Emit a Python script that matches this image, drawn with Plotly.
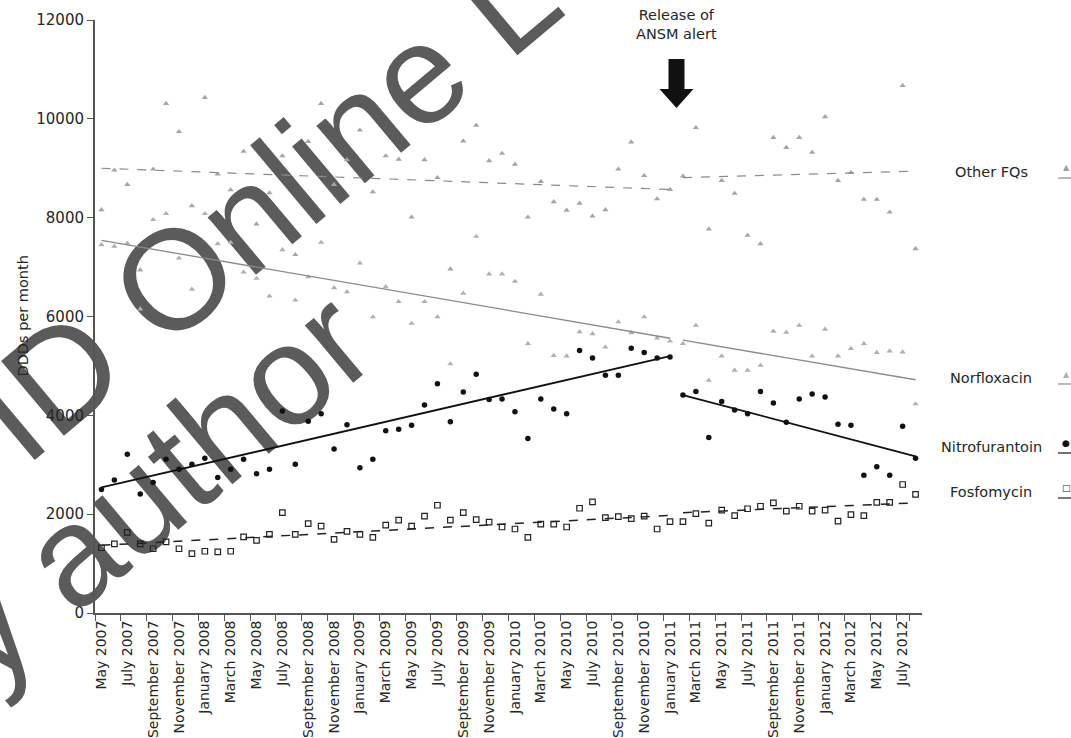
import plotly.graph_objects as go

# ---------------- data ----------------
month_names = ["January", "February", "March", "April", "May", "June", "July",
               "August", "September", "October", "November", "December"]
months = [f"{month_names[(4 + i) % 12]} {2007 + (4 + i) // 12}" for i in range(64)]  # May 2007 .. Aug 2012
tick_labels = months[::2]
y_ticks = [0, 2000, 4000, 6000, 8000, 10000, 12000]

other_fq = [8160, 8960, 8670, 6940, 8980, 10310, 9740, 8240, 10430, 8880,
            8560, 9340, 7870, 8500, 9250, 7250, 9540, 10310, 8670, 9170,
            9770, 8520, 9250, 9180, 8010, 9170, 8810, 6960, 9550, 9870,
            9150, 9300, 9080, 8010, 8730, 8320, 8150, 8290, 8030, 8160,
            8980, 9530, 8850, 8380, 8570, 8840, 9820, 7770, 8750, 8490,
            7640, 7470, 9620, 9420, 9620, 9320, 10040, 8750, 8910, 8370,
            8370, 8110, 10670, 7370]
norfloxacin = [7450, 7420, 7480, 6150, 7960, 8080, 7180, 6550, 8080, 7470,
               7500, 6900, 6770, 6410, 7350, 6330, 6800, 7500, 6580, 6500,
               7080, 5990, 6600, 6300, 5860, 6300, 5990, 5040, 6470, 7620,
               6860, 6860, 6710, 5450, 6450, 5210, 5200, 5690, 5650, 5380,
               5890, 5670, 5990, 5560, 5500, 5450, 5820, 4710, 5200, 4910,
               4910, 5010, 5700, 5680, 5820, 5200, 5740, 5200, 5350, 5450,
               5270, 5300, 5280, 4230]
nitrofurantoin = [2500, 2690, 3210, 2410, 2640, 3110, 2910, 3010, 3130, 2740,
                  2910, 3110, 2820, 2910, 4090, 3010, 3880, 4030, 3320, 3810,
                  2940, 3110, 3690, 3720, 3800, 4210, 4640, 3870, 4470, 4830,
                  4320, 4330, 4070, 3530, 4330, 4130, 4030, 5310, 5160, 4810,
                  4810, 5360, 5270, 5160, 5180, 4410, 4480, 3550, 4280, 4110,
                  4030, 4480, 4250, 3860, 4330, 4430, 4370, 3820, 3800, 2790,
                  2960, 2790, 3780, 3130]
fosfomycin = [1320, 1400, 1630, 1400, 1300, 1440, 1300, 1200, 1250, 1235,
              1250, 1540, 1470, 1590, 2030, 1590, 1810, 1760, 1490, 1650,
              1590, 1530, 1780, 1880, 1760, 1960, 2180, 1880, 2030, 1890,
              1840, 1740, 1700, 1530, 1800, 1800, 1740, 2120, 2250, 1930,
              1950, 1910, 1960, 1700, 1850, 1850, 2010, 1820, 2080, 1970,
              2110, 2160, 2230, 2060, 2160, 2060, 2080, 1860, 1990, 1970,
              2240, 2240, 2600, 2400]

# segmented trend lines: [start pre, end pre, start post, end post]
alert_index = 45  # February 2011 = first month after the ANSM alert
other_fq_trend = [9000, 8570, 8810, 8940]
norfloxacin_trend = [7540, 5560, 5520, 4720]
nitrofurantoin_trend = [2540, 5200, 4410, 3170]
fosfomycin_trend = [1370, 1975, 2030, 2230]

series_names = ["Other FQs", "Norfloxacin", "Nitrofurantoin", "Fosfomycin"]

# ---------------- figure ----------------
fig = go.Figure()
seg_x_pre = [months[0], months[alert_index - 1]]
seg_x_post = [months[alert_index], months[-1]]

styles = {
    "Other FQs": dict(y=other_fq, trend=other_fq_trend,
                      marker=dict(symbol="triangle-up", size=5.5, color="#a4a4a4"),
                      line=dict(color="#8a8a8a", width=1.2, dash="dash"),
                      key=("▲", "#a0a0a0", 8)),
    "Norfloxacin": dict(y=norfloxacin, trend=norfloxacin_trend,
                        marker=dict(symbol="triangle-up", size=5.5, color="#b0b0b0"),
                        line=dict(color="#8a8a8a", width=1.3),
                        key=("▲", "#b0b0b0", 8)),
    "Nitrofurantoin": dict(y=nitrofurantoin, trend=nitrofurantoin_trend,
                           marker=dict(symbol="circle", size=5.5, color="#111111"),
                           line=dict(color="#111111", width=1.8),
                           key=("●", "#111111", 9)),
    "Fosfomycin": dict(y=fosfomycin, trend=fosfomycin_trend,
                       marker=dict(symbol="square-open", size=5.5, color="#222222",
                                   line=dict(width=1.2)),
                       line=dict(color="#222222", width=1.5, dash="dash"),
                       key=("□", "#222222", 9)),
}

for name in series_names:
    st = styles[name]
    fig.add_trace(go.Scatter(x=months, y=st["y"], mode="markers", name=name,
                             marker=st["marker"], showlegend=False, cliponaxis=False))
    t = st["trend"]
    fig.add_trace(go.Scatter(x=seg_x_pre, y=t[:2], mode="lines", line=st["line"],
                             showlegend=False, hoverinfo="skip"))
    fig.add_trace(go.Scatter(x=seg_x_post, y=t[2:], mode="lines", line=st["line"],
                             showlegend=False, hoverinfo="skip"))

TXT = "#262626"
W, H = 1071, 738
ML, MR, MT, MB = 95, 149, 20, 125
PW, PH = W - ML - MR, H - MT - MB

def px_x(px):
    return (px - ML) / PW

def px_y(py):
    return (H - MB - py) / PH

# watermark (drawn beneath the data, as in the reference)
wm_font = dict(family="Liberation Sans", size=142, color="#5b5b5b")
for text, (cx, cy) in [("ID Online Le", (287, 167)), ("by author", (115, 501))]:
    fig.add_shape(type="rect", xref="paper", yref="paper", layer="below",
                  x0=px_x(cx - 1), x1=px_x(cx + 1), y0=px_y(cy + 1), y1=px_y(cy - 1),
                  line=dict(width=0), fillcolor="rgba(0,0,0,0)",
                  label=dict(text=text, textangle=-40, textposition="middle center",
                             font=wm_font))

# right-hand series labels with clipped key symbols
label_y = {"Other FQs": 172, "Norfloxacin": 378, "Nitrofurantoin": 447, "Fosfomycin": 492}
for name in series_names:
    py = label_y[name]
    fig.add_annotation(x=px_x(991), y=px_y(py), xref="paper", yref="paper",
                       text=name, showarrow=False, xanchor="center", yanchor="middle",
                       font=dict(family="DejaVu Sans", size=14.5, color=TXT))
    st = styles[name]
    fig.add_shape(type="line", xref="paper", yref="paper",
                  x0=px_x(1058), x1=px_x(1072), y0=px_y(py + 6), y1=px_y(py + 6),
                  line=dict(color=st["line"]["color"], width=1.2))
    glyph, gcol, gsize = st["key"]
    fig.add_annotation(x=px_x(1066), y=px_y(py - 4), xref="paper", yref="paper",
                       text=glyph, showarrow=False, xanchor="center", yanchor="middle",
                       font=dict(family="DejaVu Sans", size=gsize, color=gcol))

# alert annotation and arrow
alert_paper_x = alert_index / len(months)
fig.add_annotation(x=alert_paper_x, y=px_y(25), xref="paper", yref="paper",
                   text="Release of<br>ANSM alert", showarrow=False,
                   xanchor="center", yanchor="middle",
                   font=dict(family="DejaVu Sans", size=14.5, color=TXT))
fig.add_shape(type="path", xref="paper", yref="paper",
              xsizemode="pixel", ysizemode="pixel",
              xanchor=alert_paper_x, yanchor=px_y(108),
              path="M -8,49 L 8,49 L 8,19 L 17,19 L 0,0 L -17,19 L -8,19 Z",
              fillcolor="#111111", line=dict(width=0))

# y-axis title (above the watermark)
fig.add_annotation(x=px_x(22), y=0.5, xref="paper", yref="paper",
                   text="DDDs per month", textangle=-90, showarrow=False,
                   xanchor="center", yanchor="middle",
                   font=dict(family="DejaVu Sans", size=14.5, color=TXT))

fig.update_layout(
    width=W, height=H,
    margin=dict(l=ML, r=MR, t=MT, b=MB, pad=0, autoexpand=False),
    paper_bgcolor="white", plot_bgcolor="rgba(0,0,0,0)",
    xaxis=dict(type="category", categoryorder="array", categoryarray=months,
               range=[-0.5, len(months) - 0.5], automargin=False,
               tickmode="array", tickvals=tick_labels, ticktext=tick_labels,
               tickson="boundaries", ticks="outside", ticklen=6, tickwidth=1.3,
               tickcolor="#555555", tickangle=-90,
               showline=True, linecolor="#555555", linewidth=2,
               showgrid=False, zeroline=False,
               tickfont=dict(family="DejaVu Sans", size=14, color=TXT)),
    yaxis=dict(range=[0, 12000], tickmode="array", tickvals=y_ticks,
               ticktext=[str(v) for v in y_ticks], automargin=False,
               ticks="outside", ticklen=6, tickwidth=1.3, tickcolor="#555555",
               showline=True, linecolor="#555555", linewidth=2,
               showgrid=False, zeroline=False,
               tickfont=dict(family="DejaVu Sans", size=15, color=TXT)),
)

fig.write_html("out.html")
